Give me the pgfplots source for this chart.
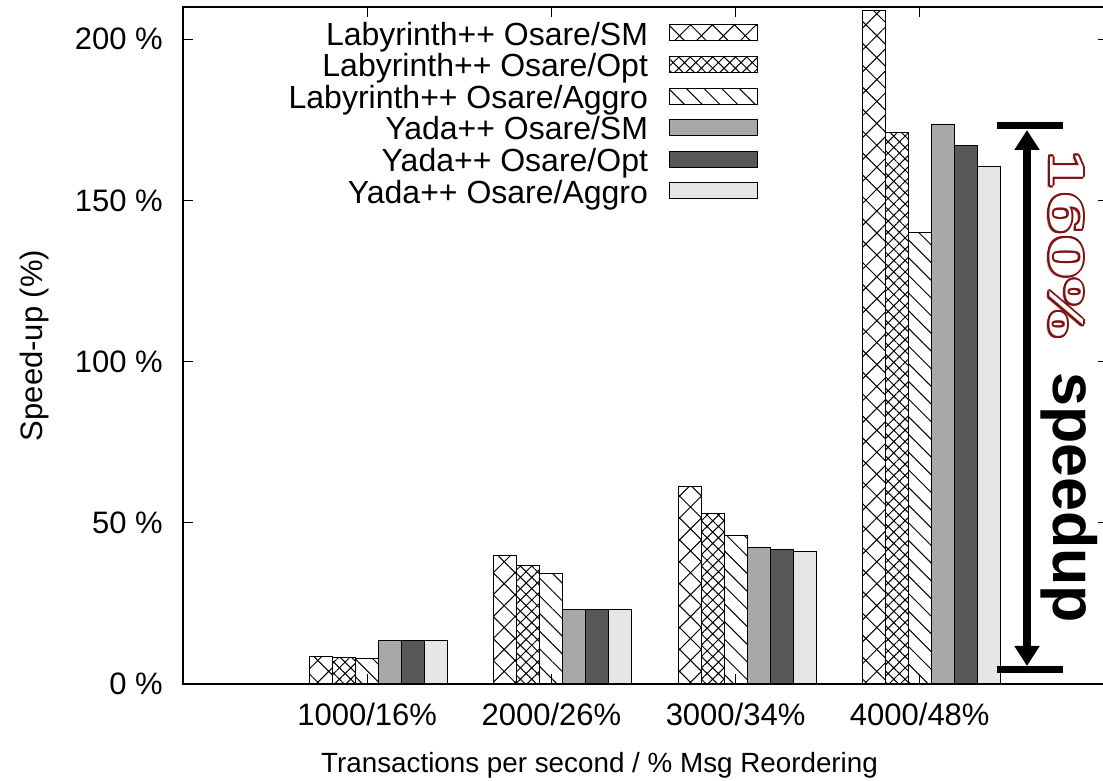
\documentclass[border=0pt]{standalone}
\usepackage{fontspec}
\setmainfont{Liberation Sans}
\newfontfamily\slabfont{DejaVu Serif}
\usepackage{pgfplots}
\pgfplotsset{compat=1.18}
\usetikzlibrary{patterns.meta,arrows.meta}

\definecolor{gA}{RGB}{168,168,168}
\definecolor{gB}{RGB}{88,88,88}
\definecolor{gC}{RGB}{230,230,230}
\definecolor{osared}{RGB}{130,18,18}

\pgfplotsset{
  mybar/.style={ybar, bar width=0.125, draw=black, line width=1pt,
    legend image code/.code={\draw[##1, line width=1pt] (0pt,-3pt) rectangle (88pt,13pt);}},
}
\newcommand\px[2]{([shift={(#1pt-183pt,684pt-#2pt)}]ax.south west)}

\begin{document}
\begin{tikzpicture}
\begin{axis}[name=ax, scale only axis, width=925pt, height=677pt,
  xmin=0, xmax=5.022, ymin=0, ymax=210,
  axis line style={line width=1.3pt},
  tick align=inside, major tick length=10pt, tick style={line width=1.2pt, black},
  xtick={1,2,3,4}, xticklabels={1000/16\%,2000/26\%,3000/34\%,4000/48\%},
  ytick={0,50,100,150,200},
  yticklabel={\pgfmathprintnumber{\tick}~\%},
  /pgf/number format/assume math mode=true,
  ticklabel style={font=\fontsize{31}{31}\selectfont},
  xticklabel style={anchor=base, inner sep=0pt, yshift=-42pt},
  yticklabel style={anchor=east, inner sep=0pt, xshift=-20pt},
  xlabel={Transactions per second / \% Msg Reordering},
  ylabel={Speed-up (\%)},
  every axis x label/.style={at={(rel axis cs:0.4503,-0.13)}, anchor=base, inner sep=0pt,
    font=\fontsize{27.8}{28}\selectfont},
  every axis y label/.style={at={(rel axis cs:-0.1514,0.5)}, rotate=90, anchor=base, inner sep=0pt,
    font=\fontsize{31}{31}\selectfont},
  legend style={at={(rel axis cs:0.6216,0.9778)}, anchor=north east, draw=none, fill=none,
    inner sep=0pt, outer sep=0pt, row sep=0pt, column sep=21pt,
    font=\fontsize{32}{32}\selectfont,
    nodes={inner sep=0pt, text height=23pt, text depth=8.6pt}},
  legend cell align=right,
  legend plot pos=right,
]
\addplot[mybar, bar shift=-0.25, pattern={Hatch[angle=45,distance=15.5pt,line width=1pt]}]
  coordinates {(1,8.5) (2,39.8) (3,61.3) (4,208.9)};
\addlegendentry{Labyrinth++ Osare/SM}
\addplot[mybar, bar shift=-0.125, pattern={Hatch[angle=45,distance=8pt,line width=1pt]}]
  coordinates {(1,8.1) (2,36.9) (3,53.0) (4,171.1)};
\addlegendentry{Labyrinth++ Osare/Opt}
\addplot[mybar, bar shift=0, pattern={Lines[angle=-45,distance=12.5pt,line width=1pt]}]
  coordinates {(1,7.8) (2,34.2) (3,46.0) (4,140.1)};
\addlegendentry{Labyrinth++ Osare/Aggro}
\addplot[mybar, bar shift=0.125, fill=gA]
  coordinates {(1,13.5) (2,23.0) (3,42.2) (4,173.5)};
\addlegendentry{Yada++ Osare/SM}
\addplot[mybar, bar shift=0.25, fill=gB]
  coordinates {(1,13.5) (2,23.0) (3,41.7) (4,166.9)};
\addlegendentry{Yada++ Osare/Opt}
\addplot[mybar, bar shift=0.375, fill=gC]
  coordinates {(1,13.5) (2,23.0) (3,41.1) (4,160.4)};
\addlegendentry{Yada++ Osare/Aggro}
\end{axis}

% annotation
\draw[line width=8pt, {Triangle[length=20pt,width=24pt]}-{Triangle[length=20pt,width=24pt]}]
  \px{1027}{130} -- \px{1027}{666};
\draw[line width=7pt] \px{997}{126} -- \px{1063}{126};
\draw[line width=7pt] \px{997}{669.5} -- \px{1063}{669.5};

\path \px{1053}{372} node[rotate=-90, anchor=base west, inner sep=0pt,
  font=\fontsize{61}{61}\selectfont\bfseries] {speedup};

\path \px{1050}{148} coordinate (T);
\node[rotate=-90, anchor=base west, inner sep=0pt, text=black!25] at ([shift={(-3pt,-2pt)}]T)
  {\resizebox{190pt}{33pt}{\fontsize{40}{40}\slabfont\bfseries 160\%}};
\foreach \a in {0,22.5,...,337.5}{
  \node[rotate=-90, anchor=base west, inner sep=0pt, text=osared] at ([shift={(\a:2pt)}]T)
    {\resizebox{190pt}{33pt}{\fontsize{40}{40}\slabfont\bfseries 160\%}};
}
\node[rotate=-90, anchor=base west, inner sep=0pt, text=white] at (T)
  {\resizebox{190pt}{33pt}{\fontsize{40}{40}\slabfont\bfseries 160\%}};

\pgfresetboundingbox
\path[use as bounding box] ([shift={(-183pt,-97pt)}]ax.south west) rectangle ([shift={(-5pt,7pt)}]ax.north east);
\end{tikzpicture}
\end{document}
